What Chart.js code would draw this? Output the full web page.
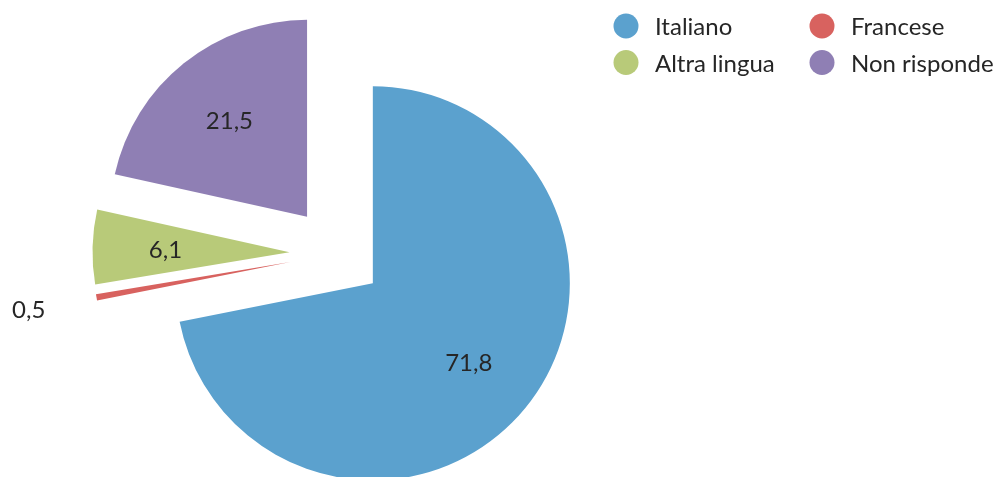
<!DOCTYPE html>
<html>
<head>
<meta charset="utf-8">
<script src="https://cdn.jsdelivr.net/npm/chart.js@4/dist/chart.umd.min.js"></script>
<style>
  html, body { margin: 0; padding: 0; background: #ffffff; }
  #wrap { position: relative; width: 998px; height: 477px; }
</style>
</head>
<body>
<div id="wrap"><canvas id="c"></canvas></div>
<script>
// ---- data ----
const categories = ['Italiano', 'Francese', 'Altra lingua', 'Non risponde'];
const values = [71.8, 0.5, 6.1, 21.5];
const sliceColors = ['#5BA1CE', '#D8625F', '#B8CA79', '#8F7FB4'];

// ---- exploded arc element (each wedge translated whole along its mid angle) ----
class ExplodedArc extends Chart.ArcElement {
  draw(ctx) {
    const o = this.options;
    const mid = (this.startAngle + this.endAngle) / 2;
    const d = o.offset || 0;
    const cx = this.x + Math.cos(mid) * d;
    const cy = this.y + Math.sin(mid) * d;
    ctx.save();
    ctx.beginPath();
    ctx.moveTo(cx, cy);
    ctx.arc(cx, cy, this.outerRadius, this.startAngle, this.endAngle);
    ctx.closePath();
    ctx.fillStyle = o.backgroundColor;
    ctx.fill();
    ctx.restore();
  }
}
ExplodedArc.id = 'explodedArc';

class ExplodedPie extends Chart.PieController {}
ExplodedPie.id = 'explodedPie';
ExplodedPie.defaults = { dataElementType: 'explodedArc' };

Chart.register(ExplodedArc, ExplodedPie);

const FONT = 'Lato, "Open Sans", sans-serif';
const TEXT = '#262626';

// ---- value labels ----
const valueLabels = {
  id: 'valueLabels',
  afterDatasetsDraw(chart) {
    const ctx = chart.ctx;
    const meta = chart.getDatasetMeta(0);
    const ds = chart.data.datasets[0];
    const total = ds.data.reduce((a, b) => a + b, 0);
    ctx.save();
    ctx.font = '24px ' + FONT;
    ctx.fillStyle = TEXT;
    ctx.textAlign = 'center';
    ctx.textBaseline = 'alphabetic';
    meta.data.forEach((arc, i) => {
      const v = ds.data[i];
      const mid = (arc.startAngle + arc.endAngle) / 2;
      const d = arc.options.offset || 0;
      const k = (v / total < 0.02) ? 1.35 : 0.63;
      const r = d + arc.outerRadius * k;
      const x = arc.x + Math.cos(mid) * r;
      const y = arc.y + Math.sin(mid) * r;
      ctx.fillText(v.toFixed(1).replace('.', ','), x, y + 8.6);
    });
    ctx.restore();
  }
};

// ---- legend (2 x 2 grid, top right) ----
const gridLegend = {
  id: 'gridLegend',
  afterDraw(chart) {
    const ctx = chart.ctx;
    const colsX = [626, 822];
    const rowsY = [26, 62.5];
    const colors = chart.data.datasets[0].backgroundColor;
    ctx.save();
    ctx.font = '24px ' + FONT;
    ctx.textAlign = 'left';
    ctx.textBaseline = 'alphabetic';
    chart.data.labels.forEach((lab, i) => {
      const cx = colsX[i % 2];
      const cy = rowsY[Math.floor(i / 2)];
      ctx.beginPath();
      ctx.arc(cx, cy, 12.5, 0, Math.PI * 2);
      ctx.fillStyle = colors[i];
      ctx.fill();
      ctx.fillStyle = TEXT;
      ctx.fillText(lab, cx + 29, cy + 9);
    });
    ctx.restore();
  }
};

new Chart(document.getElementById('c'), {
  type: 'explodedPie',
  data: {
    labels: categories,
    datasets: [{
      data: values,
      backgroundColor: sliceColors,
      borderWidth: 0,
      offset: 47,
      hoverOffset: 0,
      clip: false
    }]
  },
  options: {
    responsive: true,
    maintainAspectRatio: false,
    animation: false,
    events: [],
    radius: 197,
    layout: { padding: { top: 30, right: 325, left: 0, bottom: 0 } },
    plugins: {
      legend: { display: false },
      tooltip: { enabled: false }
    }
  },
  plugins: [valueLabels, gridLegend]
});
</script>
</body>
</html>
